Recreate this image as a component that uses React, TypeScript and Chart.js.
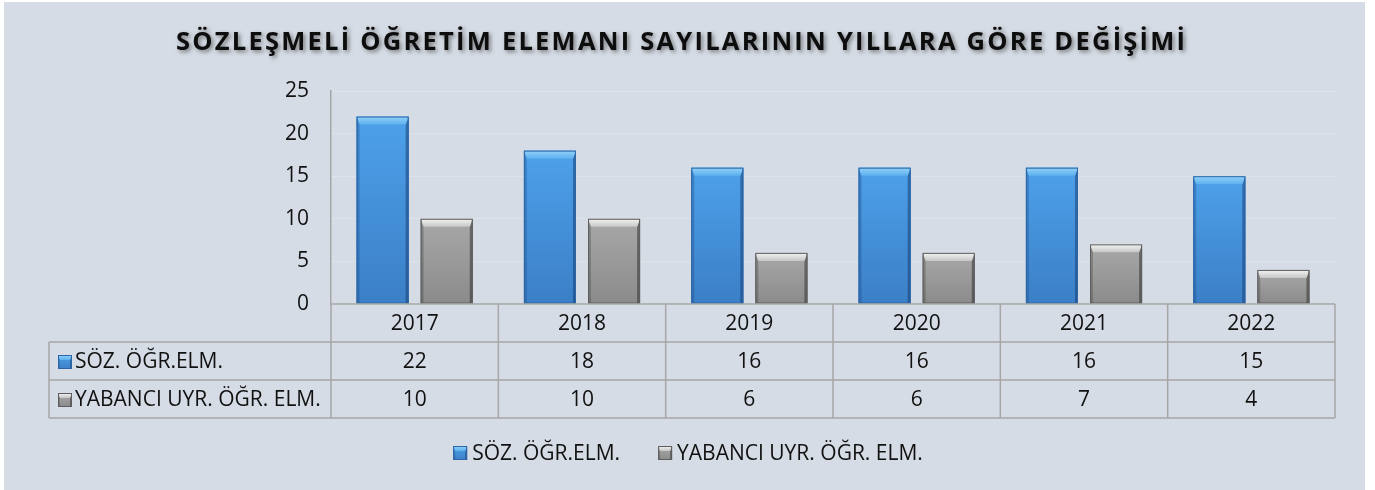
import React, { useEffect, useRef } from 'react';
import { Chart, registerables } from 'chart.js';

Chart.register(...registerables);

const TITLE = 'SÖZLEŞMELİ ÖĞRETİM ELEMANI SAYILARININ YILLARA GÖRE DEĞİŞİMİ';
const YEARS = ['2017', '2018', '2019', '2020', '2021', '2022'];
const SOZ_VALUES = [22, 18, 16, 16, 16, 15];
const YABANCI_VALUES = [10, 10, 6, 6, 7, 4];
const SERIES_NAMES = ['SÖZ. ÖĞR.ELM.', 'YABANCI UYR. ÖĞR. ELM.'];
const Y_TICKS = [0, 5, 10, 15, 20, 25];

const W = 1361;
const H = 488;
const FONT = '"Open Sans", "Noto Sans", sans-serif';
const BG = '#D6DCE5';

type Pal = {
  mid: string; top: string; bottom: string; left: string; right: string;
  bevelTop: string; bevelBottom: string; outline: string;
};

const BLUE: Pal = {
  mid: '#4592DC', top: '#4DA1EA', bottom: '#3B7FC6',
  left: 'rgba(25,65,125,0.30)', right: 'rgba(15,45,95,0.45)',
  bevelTop: '#93D2F8', bevelBottom: '#5CB0EE', outline: '#2D66A5',
};
const GRAY: Pal = {
  mid: '#9A9A9A', top: '#A8A8A8', bottom: '#8B8B8B',
  left: 'rgba(50,50,50,0.28)', right: 'rgba(30,30,30,0.45)',
  bevelTop: '#F4F4F4', bevelBottom: '#C6C6C6', outline: '#5E5E5E',
};
const PALS = [BLUE, GRAY];

function poly(ctx: CanvasRenderingContext2D, pts: number[]) {
  ctx.beginPath();
  ctx.moveTo(pts[0], pts[1]);
  for (let i = 2; i < pts.length; i += 2) ctx.lineTo(pts[i], pts[i + 1]);
  ctx.closePath();
  ctx.fill();
}

function drawBevel(ctx: CanvasRenderingContext2D, l: number, t: number, r: number, b: number, p: Pal, bs: number, bt: number) {
  const w = r - l;
  const h = b - t;
  if (h <= 0) return;
  const g = ctx.createLinearGradient(0, t, 0, b);
  g.addColorStop(0, p.top);
  g.addColorStop(1, p.bottom);
  ctx.fillStyle = g;
  ctx.fillRect(l, t, w, h);
  const btt = Math.min(bt, h / 2);
  ctx.fillStyle = p.left;
  poly(ctx, [l, t, l + bs, t + btt, l + bs, b, l, b]);
  ctx.fillStyle = p.right;
  poly(ctx, [r, t, r - bs, t + btt, r - bs, b, r, b]);
  const g2 = ctx.createLinearGradient(0, t, 0, t + btt);
  g2.addColorStop(0, p.bevelTop);
  g2.addColorStop(1, p.bevelBottom);
  ctx.fillStyle = g2;
  poly(ctx, [l, t, r, t, r - bs, t + btt, l + bs, t + btt]);
  ctx.strokeStyle = p.outline;
  ctx.lineWidth = 1;
  ctx.strokeRect(l + 0.5, t + 0.5, w - 1, h - 1);
}

const bgPlugin = {
  id: 'bg',
  beforeDraw(chart: any) {
    const ctx = chart.ctx;
    ctx.save();
    ctx.fillStyle = BG;
    ctx.fillRect(0, 0, chart.width, chart.height);
    ctx.restore();
  },
};

const barPlugin = {
  id: 'bevelBars',
  afterDatasetsDraw(chart: any) {
    const ctx = chart.ctx;
    ctx.save();
    chart.data.datasets.forEach((_ds: any, di: number) => {
      const meta = chart.getDatasetMeta(di);
      meta.data.forEach((el: any) => {
        const l = el.x - el.width / 2;
        const r = el.x + el.width / 2;
        drawBevel(ctx, l, el.y, r, el.base, PALS[di], 3, 8);
      });
    });
    ctx.restore();
  },
};

const tablePlugin = {
  id: 'dataTable',
  afterDraw(chart: any) {
    const ctx: CanvasRenderingContext2D = chart.ctx;
    const area = chart.chartArea;
    const xs = chart.scales.x;
    const n = YEARS.length;
    const left = area.left;
    const right = area.right;
    const cw = (right - left) / n;
    const top = area.bottom;
    const rowH = 38;
    const tableLeft = 45;
    ctx.save();
    ctx.strokeStyle = '#A6A6A6';
    ctx.lineWidth = 1.5;
    const line = (x1: number, y1: number, x2: number, y2: number) => {
      ctx.beginPath();
      ctx.moveTo(x1, y1);
      ctx.lineTo(x2, y2);
      ctx.stroke();
    };
    line(left, top, right, top);
    for (let rr = 1; rr <= 3; rr++) line(tableLeft, top + rr * rowH, right, top + rr * rowH);
    for (let i = 0; i <= n; i++) line(left + i * cw, top, left + i * cw, top + 3 * rowH);
    line(tableLeft, top + rowH, tableLeft, top + 3 * rowH);

    ctx.fillStyle = '#111111';
    ctx.font = `21px ${FONT}`;
    ctx.textAlign = 'center';
    ctx.textBaseline = 'middle';
    const rows = [YEARS, SOZ_VALUES.map(String), YABANCI_VALUES.map(String)];
    rows.forEach((row, ri) => {
      const cy = top + ri * rowH + rowH / 2 + 1;
      row.forEach((txt, i) => {
        ctx.fillText(txt, xs.getPixelForValue(i), cy);
      });
    });
    SERIES_NAMES.forEach((name, si) => {
      const cy = top + (si + 1) * rowH + rowH / 2 + 1;
      drawBevel(ctx, 54, cy - 7, 68, cy + 7, PALS[si], 2, 5);
      ctx.fillStyle = '#111111';
      ctx.textAlign = 'left';
      ctx.fillText(name, 71, cy);
    });

    // title
    ctx.save();
    ctx.font = `bold 25.5px ${FONT}`;
    (ctx as any).letterSpacing = '0px';
    const base = ctx.measureText(TITLE).width;
    const target = 1009;
    const ls = (target - base) / (TITLE.length - 1);
    (ctx as any).letterSpacing = `${ls}px`;
    ctx.textAlign = 'left';
    ctx.textBaseline = 'alphabetic';
    ctx.fillStyle = '#0D0D0D';
    ctx.shadowColor = 'rgba(0,0,0,0.45)';
    ctx.shadowBlur = 4;
    ctx.shadowOffsetX = 2;
    ctx.shadowOffsetY = 2;
    ctx.fillText(TITLE, 172, 48);
    ctx.restore();
    (ctx as any).letterSpacing = '0px';

    // legend
    ctx.font = `21px ${FONT}`;
    ctx.textBaseline = 'middle';
    const box = 14;
    const gapBox = 5;
    const gapItem = 38;
    const widths = SERIES_NAMES.map((s) => ctx.measureText(s).width);
    const total = widths.reduce((a, w) => a + box + gapBox + w, 0) + gapItem;
    let x = 684 - total / 2;
    const ly = 451;
    SERIES_NAMES.forEach((name, si) => {
      drawBevel(ctx, x, ly - box / 2, x + box, ly + box / 2, PALS[si], 2, 5);
      x += box + gapBox;
      ctx.fillStyle = '#111111';
      ctx.fillText(name, x, ly + 1);
      x += widths[si] + gapItem;
    });
    ctx.restore();
  },
};

export default function App() {
  const ref = useRef<HTMLCanvasElement | null>(null);
  useEffect(() => {
    if (!ref.current) return;
    const chart = new Chart(ref.current, {
      type: 'bar',
      data: {
        labels: YEARS,
        datasets: [
          { label: SERIES_NAMES[0], data: SOZ_VALUES, backgroundColor: BLUE.mid, borderWidth: 0 },
          { label: SERIES_NAMES[1], data: YABANCI_VALUES, backgroundColor: GRAY.mid, borderWidth: 0 },
        ],
      },
      options: {
        responsive: false,
        maintainAspectRatio: false,
        animation: false,
        events: [],
        datasets: { bar: { categoryPercentage: 0.766, barPercentage: 0.8125 } },
        layout: { padding: { left: 267, top: 89, right: 30, bottom: 186 } },
        plugins: {
          legend: { display: false },
          title: { display: false },
          tooltip: { enabled: false },
        },
        scales: {
          x: { display: false },
          y: {
            min: 0,
            max: 25,
            afterFit: (s: any) => { s.width = 60; },
            afterBuildTicks: (s: any) => { s.ticks = Y_TICKS.map((v) => ({ value: v })); },
            grid: { color: '#DEE3EA', lineWidth: 1, drawTicks: false },
            border: { display: true, color: '#A6A6A6', width: 1.5 },
            ticks: { padding: 22, color: '#111111', font: { family: FONT, size: 21 } },
          },
        },
      },
      plugins: [bgPlugin, barPlugin, tablePlugin],
    });
    return () => chart.destroy();
  }, []);
  return (
    <div style={{ position: 'absolute', left: 4, top: 2, width: W, height: H }}>
      <canvas ref={ref} width={W} height={H} style={{ display: 'block', width: W, height: H }} />
    </div>
  );
}
